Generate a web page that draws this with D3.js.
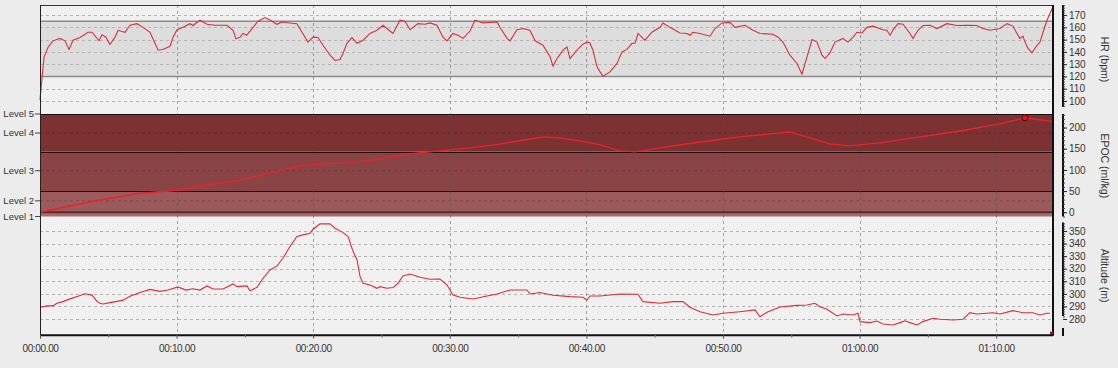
<!DOCTYPE html>
<html><head><meta charset="utf-8">
<script src="https://cdn.jsdelivr.net/npm/d3@7"></script>
<style>
html,body{margin:0;padding:0;background:#ececec;}
svg{display:block;}
text{font-family:"Liberation Sans",Arial,sans-serif;fill:#333;}
</style></head><body>
<svg id="chart" width="1118" height="368"></svg>
<script>
// ---------- data ----------
const timeTicks = [0,10,20,30,40,50,60,70];
const timeLabels = ["00:00.00","00:10.00","00:20.00","00:30.00","00:40.00","00:50.00","01:00.00","01:10.00"];
const timeMinorTicks = [5,15,25,35,45,55,65];

const hrTime = [0,0.15,0.3,0.6,0.95,1.46,1.83,2.12,2.42,2.93,3.51,3.81,4.32,4.54,4.83,5.12,5.49,5.71,6.22,6.59,7.1,7.54,8.05,8.42,8.64,9.0,9.52,9.74,10.03,10.47,10.98,11.2,11.71,12.23,12.81,13.69,14.13,14.35,14.64,14.86,15.15,15.52,15.96,16.47,16.84,17.35,17.72,18.3,18.81,19.18,19.62,19.99,20.35,20.72,21.23,21.6,21.96,22.18,22.47,22.84,23.21,23.65,24.16,24.67,25.11,25.62,25.84,26.35,26.72,27.09,27.67,28.18,28.55,29.06,29.5,29.8,30.23,30.6,30.97,31.48,31.84,32.43,32.94,33.46,33.67,34.19,34.41,34.92,35.36,35.87,36.24,36.82,37.34,37.56,37.85,38.29,38.58,38.8,39.31,39.75,40.04,40.26,40.48,40.78,41.0,41.22,41.73,42.24,42.61,42.97,43.34,43.56,43.78,44.14,44.29,44.8,45.39,45.61,46.12,46.85,47.36,47.58,47.8,48.32,49.05,49.41,49.93,50.51,50.88,51.61,52.2,52.71,53.66,54.03,54.39,54.9,55.42,55.78,56.15,56.52,56.88,57.25,57.47,57.83,58.2,58.78,59.15,59.52,59.81,60.18,60.54,60.98,61.71,62.0,62.23,62.45,62.81,63.18,63.69,63.91,64.28,64.64,65.15,65.67,66.4,67.13,67.86,68.59,69.03,69.55,70.28,70.79,71.23,71.52,71.74,71.96,72.11,72.33,72.62,72.99,73.21,73.43,73.72,73.94,74.16];
const hrValues = [101,119,136,144,149,151,149,142,149.5,151.7,156,156,149,154,152,146,152,157.6,156,161.7,163,160,156,147,141.4,142,144.6,152,158,160,163,161.5,165.8,162.5,161.7,161.7,157.6,150.6,152,155,153.6,159,165,168,166,162.5,164.4,163.6,163,156,148,152,151.7,145.4,137.3,133,133.8,138.7,147,151.7,147,149.5,155,157.6,161.7,157,155,165.8,165,158,163,162.5,163.6,161.7,152,149,155,153.6,151,157,165.8,163.6,164,164.4,160,151,149,158,159,157.6,149,145.4,136,128.4,134.6,141.4,144,134.6,141.4,146.3,148,147.3,141.4,127.8,123.7,120.2,123.7,130.6,140,142,147,147,155,151,149.5,156,160,163.6,160,155.4,155,153.6,156,155,152.8,159,163.6,164,160,161.7,157.6,155,154.4,152,148,137.3,130.6,121.9,136,150,148,137.3,134.6,139.2,148,151,148,152,156,155.4,160,161,158,157.6,153.6,158,163,162.5,155,151,157.6,161.5,161.7,159,163,161.5,161.7,161.5,159,157.6,159,163,161,155,151,152.8,148,142.8,139.2,145.4,148,156,165.8,171.2,176.6];

const epocTime = [0,1.46,4.39,7.32,9.96,11.71,14.64,16.84,19.03,20.5,22.69,24.89,27.09,29.28,31.48,33.67,35.87,36.97,38.07,39.53,41.0,42.46,43.56,45.39,48.32,51.24,53.44,54.9,56.37,57.83,59.3,61.49,64.42,67.35,70.28,72.11,74.16];
const epocValues = [0,10,29,45,51.5,62,76,93,109,114,116.5,126,138,145,152,161,173,178,175,168.6,159,145,142.5,152,166,178,185,189.5,175.6,161.5,156.7,163.8,178,192,208.6,223,214];

const altTime = [0,0.51,0.95,1.24,1.68,2.2,2.78,3.29,3.81,4.17,4.39,4.61,5.12,5.64,6.08,6.59,7.32,8.05,8.78,9.37,10.1,10.69,11.2,11.71,12.23,12.66,13.4,14.13,14.42,15.15,15.37,15.89,16.33,16.84,17.35,17.79,18.3,18.81,19.25,19.77,19.99,20.5,21.23,21.6,22.18,22.55,22.84,23.06,23.21,23.43,23.65,24.16,24.67,24.89,25.4,25.84,26.21,26.57,27.09,27.82,28.55,29.28,29.8,30.23,30.75,31.7,32.72,33.46,34.41,35.65,35.87,36.6,37.56,38.8,39.75,40.04,40.26,41.0,41.73,42.46,43.78,44.14,45.39,46.34,47.07,47.58,48.32,49.27,50.0,51.24,52.34,52.71,53.22,54.17,55.42,56.15,56.73,57.1,57.61,58.35,58.78,59.52,59.88,60.03,60.76,61.27,61.71,62.45,62.96,63.32,63.69,64.2,64.64,65.37,65.89,66.84,67.57,68.08,68.59,69.77,70.28,71.23,71.96,72.69,73.21,73.72,73.94];
const altValues = [289.3,290.4,290.4,292.5,293.8,296,298,300,299,294,292.5,291.9,293,294,295,298,301,303.5,302,303,305.5,303,304,303,306.3,303.9,303.9,307.9,305.7,306.3,302.5,305.2,312.4,319,322.2,328.3,337.6,345.6,346.9,348.2,351.4,355.6,355.6,352.2,348.7,345.6,336.3,330.2,327,313.7,308.4,307,304.4,305.7,304.4,305,308.4,314.2,315.8,313.2,311.6,311.8,307,299.1,297.3,295.9,298.3,299.9,303.1,303.1,299.9,301,298.9,297.8,297.3,295.1,298.3,298.3,299.1,299.9,299.7,293.8,292.5,293.8,293.8,289.3,285.8,283.2,284.5,285.8,287.2,281.8,285.4,289.5,290.8,291.1,292.5,289.8,287.7,282.4,284,283.2,284.5,277.9,277.1,278.4,276,275.2,277.1,278.6,277.1,275.2,277.9,280.6,279.8,279.2,279.8,285,284,285,284,286.6,285,285,283.2,284.5,284.5];

const hrTicks = [100,110,120,130,140,150,160,170];
const hrZone = [120,165];
const epocTicks = [0,50,100,150,200];
const altTicks = [280,290,300,310,320,330,340,350];
const levelNames = ["Level 1","Level 2","Level 3","Level 4","Level 5"];
const levelEpoc = [-10,27,98,187,232];
const epocBandEdges = [-10,0,50,143,232];
const epocBandColors = ["#a86a6a","#9b5b5c","#8a4446","#7c3133"];
const epocPeak = {t:72.11, v:223};

// ---------- scales ----------
const svg = d3.select("#chart");
const x = d3.scaleLinear().domain([0,74.16]).range([40,1053]);
const yHR = d3.scaleLinear().domain([89.4,178.2]).range([114,5]);
const yEP = d3.scaleLinear().domain([-10,232]).range([216.5,114]);
const yAlt = d3.scaleLinear().domain([267.5,361.5]).range([334.7,216.5]);
const [xl, xr] = x.range();
const yTop = yHR.range()[1], yBot = yAlt.range()[0];

// plot background
svg.append("rect").attr("x",xl).attr("y",yTop).attr("width",xr-xl).attr("height",yBot-yTop).attr("fill","#f0f0f0");

// HR zone band
svg.append("rect").attr("x",xl).attr("width",xr-xl)
  .attr("y",yHR(hrZone[1])).attr("height",yHR(hrZone[0])-yHR(hrZone[1])).attr("fill","#dddddd");

// HR gridlines
svg.append("g").selectAll("line").data(hrTicks.filter(d=>d!==hrZone[0])).join("line")
  .attr("x1",xl).attr("x2",xr).attr("y1",d=>Math.round(yHR(d))+0.5).attr("y2",d=>Math.round(yHR(d))+0.5)
  .attr("stroke","#b4b4b4").attr("stroke-dasharray","3,3");
svg.append("g").selectAll("line").data(hrZone).join("line")
  .attr("x1",xl).attr("x2",xr).attr("y1",d=>yHR(d)).attr("y2",d=>yHR(d))
  .attr("stroke","#8c8c8c").attr("stroke-width",1.6);

// EPOC bands
svg.append("g").selectAll("rect").data(epocBandColors).join("rect")
  .attr("x",xl).attr("width",xr-xl)
  .attr("y",(d,i)=>yEP(epocBandEdges[i+1])).attr("height",(d,i)=>yEP(epocBandEdges[i])-yEP(epocBandEdges[i+1]))
  .attr("fill",d=>d);
// level dashed guides
svg.append("g").selectAll("line").data(levelEpoc.slice(1,4)).join("line")
  .attr("x1",xl).attr("x2",xr).attr("y1",d=>yEP(d)).attr("y2",d=>yEP(d))
  .attr("stroke","rgba(0,0,0,0.18)").attr("stroke-dasharray","3,3");
// band borders
svg.append("g").selectAll("line").data([epocBandEdges[2],epocBandEdges[3],epocBandEdges[4]]).join("line")
  .attr("x1",xl).attr("x2",xr).attr("y1",d=>Math.round(yEP(d))+0.5).attr("y2",d=>Math.round(yEP(d))+0.5)
  .attr("stroke","#1a1010").attr("stroke-width",1);
svg.append("line").attr("x1",xl).attr("x2",xr).attr("y1",yEP(0)).attr("y2",yEP(0))
  .attr("stroke","#5a2a2b").attr("stroke-width",2);

// Altitude gridlines
svg.append("g").selectAll("line").data(altTicks).join("line")
  .attr("x1",xl).attr("x2",xr).attr("y1",d=>Math.round(yAlt(d))+0.5).attr("y2",d=>Math.round(yAlt(d))+0.5)
  .attr("stroke","#b4b4b4").attr("stroke-dasharray","3,3");

// vertical gridlines
svg.append("g").selectAll("line").data(timeTicks.slice(1)).join("line")
  .attr("x1",d=>Math.round(x(d))+0.5).attr("x2",d=>Math.round(x(d))+0.5).attr("y1",yTop).attr("y2",yBot)
  .attr("stroke","rgba(80,80,80,0.5)").attr("stroke-dasharray","3,3");

// series lines
const mk = (ys) => d3.line().x(d=>x(d[0])).y(d=>ys(d[1]));
svg.append("path").datum(hrTime.map((t,i)=>[t,hrValues[i]])).attr("d",mk(yHR))
  .attr("fill","none").attr("stroke","#d8303a").attr("stroke-width",1.1);
svg.append("path").datum(epocTime.map((t,i)=>[t,epocValues[i]])).attr("d",mk(yEP))
  .attr("fill","none").attr("stroke","#e8242a").attr("stroke-width",1.4);
svg.append("path").datum(altTime.map((t,i)=>[t,altValues[i]])).attr("d",mk(yAlt))
  .attr("fill","none").attr("stroke","#d8303a").attr("stroke-width",1.1);
svg.append("circle").attr("cx",x(epocPeak.t)).attr("cy",yEP(epocPeak.v)).attr("r",3)
  .attr("fill","#e0181e").attr("stroke","#4a0a0a").attr("stroke-width",1);

// frame
svg.append("line").attr("x1",xl).attr("x2",xr).attr("y1",yTop+0.5).attr("y2",yTop+0.5).attr("stroke","#333");
svg.append("line").attr("x1",xl+0.5).attr("x2",xl+0.5).attr("y1",yTop).attr("y2",yBot).attr("stroke","#222");
svg.append("line").attr("x1",xr).attr("x2",xr).attr("y1",yTop).attr("y2",yBot+1).attr("stroke","#111").attr("stroke-width",2);
svg.append("rect").attr("x",xr-3).attr("y",yBot-3).attr("width",3).attr("height",3).attr("fill","#a01010");

// time axis
const xAxis = svg.append("g").attr("transform",`translate(0,${yBot})`)
  .call(d3.axisBottom(x).tickValues(timeTicks).tickSize(4).tickPadding(6).tickFormat((d,i)=>timeLabels[i]));
xAxis.select(".domain").attr("stroke","#111").attr("stroke-width",2).attr("d",`M${xl},0.5H${xr}`);
xAxis.selectAll(".tick line").attr("stroke","#555");
xAxis.selectAll("text").attr("font-size","10px").attr("letter-spacing","-0.35px").attr("fill","#333")
  .attr("font-family","'Liberation Sans',Arial,sans-serif");
const xMinor = svg.append("g").attr("transform",`translate(0,${yBot})`)
  .call(d3.axisBottom(x).tickValues(timeMinorTicks).tickSize(3).tickFormat(""));
xMinor.select(".domain").remove();
xMinor.selectAll(".tick line").attr("stroke","#777");

// right axes
const axX = 1063;
function rightAxis(scale, major, minor, lo, hi, fmt){
  const g = svg.append("g").attr("transform",`translate(${axX},0)`);
  g.append("line").attr("x1",0).attr("x2",0).attr("y1",scale(hi)).attr("y2",scale(lo))
    .attr("stroke","#111").attr("stroke-width",2);
  const mn = svg.append("g").attr("transform",`translate(${axX},0)`)
    .call(d3.axisRight(scale).tickValues(minor).tickSize(2).tickFormat(""));
  mn.select(".domain").remove(); mn.selectAll(".tick line").attr("stroke","#444");
  const mj = svg.append("g").attr("transform",`translate(${axX},0)`)
    .call(d3.axisRight(scale).tickValues(major).tickSize(4).tickPadding(2).tickFormat(fmt||d3.format("d")));
  mj.select(".domain").remove(); mj.selectAll(".tick line").attr("stroke","#222");
  mj.selectAll("text").attr("font-size","10px").attr("fill","#333").attr("font-family","'Liberation Sans',Arial,sans-serif");
}
rightAxis(yHR, hrTicks, d3.range(96,179,2), 95.2, 178.2);
rightAxis(yEP, epocTicks, d3.range(-10,231,10), -10, 232);
rightAxis(yAlt, altTicks, d3.range(282,357,2), 282.3, 356.8);
// lower short axis segment
svg.append("line").attr("x1",axX).attr("x2",axX).attr("y1",yAlt(272.8)).attr("y2",yAlt(266.4))
  .attr("stroke","#111").attr("stroke-width",2);

// axis titles
const titles = [
  {t:"HR (bpm)", y:d3.mean(yHR.range())},
  {t:"EPOC (ml/kg)", y:d3.mean(yEP.range())+0.5},
  {t:"Altitude (m)", y:d3.mean(yAlt.range())},
];
svg.append("g").selectAll("text").data(titles).join("text")
  .attr("transform",d=>`translate(1101,${d.y}) rotate(90)`)
  .attr("text-anchor","middle").attr("font-size","10.5px").attr("fill","#333").text(d=>d.t);

// level labels
const lv = svg.append("g");
lv.selectAll("line").data(levelEpoc).join("line")
  .attr("x1",xl-5).attr("x2",xl).attr("y1",d=>yEP(d)).attr("y2",d=>yEP(d)).attr("stroke","#444");
lv.selectAll("text").data(levelEpoc).join("text")
  .attr("x",xl-6).attr("y",d=>yEP(d)).attr("dy","0.35em").attr("text-anchor","end")
  .attr("font-size","9.5px").attr("fill","#333").text((d,i)=>levelNames[i]);
</script>
</body></html>
